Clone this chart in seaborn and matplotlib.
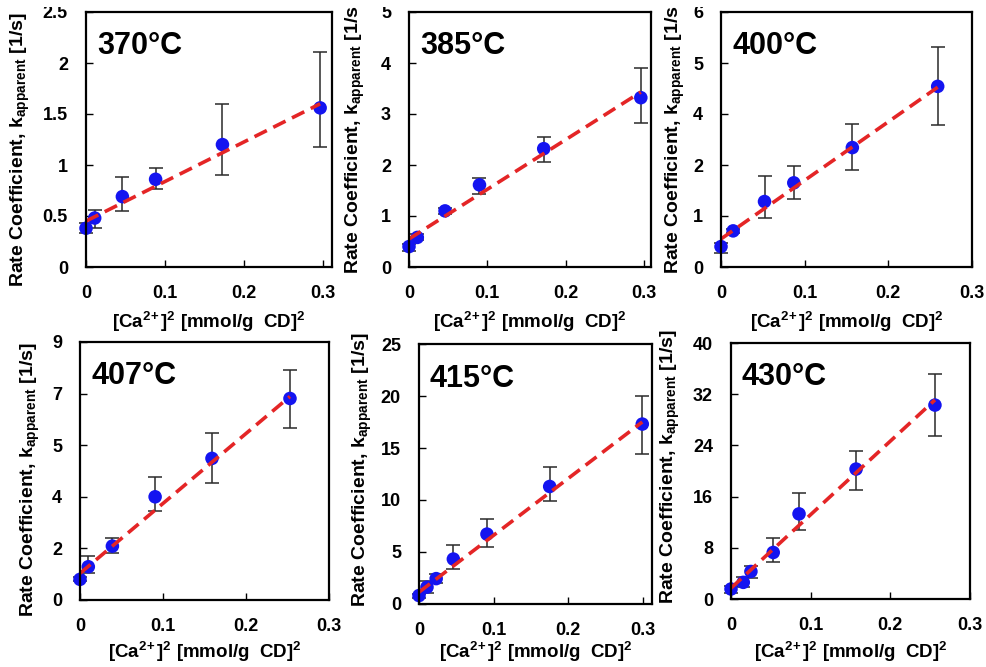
import numpy as np
import pandas as pd
import matplotlib
matplotlib.use("Agg")
import matplotlib.pyplot as plt
import seaborn as sns
from matplotlib.patches import Rectangle

# ---------------- data ----------------
temps = ["370°C", "385°C", "400°C", "407°C", "415°C", "430°C"]

x_370 = [0.0, 0.011, 0.046, 0.088, 0.1725, 0.296]
y_370 = [0.38, 0.48, 0.69, 0.86, 1.20, 1.56]
lo_370 = [0.33, 0.38, 0.55, 0.76, 0.90, 1.18]
hi_370 = [0.43, 0.56, 0.88, 0.97, 1.60, 2.11]
fit_370 = [0.45, 1.60]

x_385 = [0.0, 0.0106, 0.046, 0.090, 0.172, 0.296]
y_385 = [0.40, 0.58, 1.10, 1.61, 2.32, 3.32]
lo_385 = [0.32, 0.52, 1.04, 1.43, 2.06, 2.82]
hi_385 = [0.46, 0.64, 1.16, 1.75, 2.55, 3.90]
fit_385 = [0.55, 3.43]

x_400 = [0.0, 0.0145, 0.052, 0.087, 0.157, 0.259]
y_400 = [0.48, 0.85, 1.54, 1.98, 2.81, 4.25]
lo_400 = [0.33, 0.80, 1.15, 1.59, 2.29, 3.34]
hi_400 = [0.56, 0.90, 2.14, 2.38, 3.36, 5.18]
fit_400 = [0.66, 4.23]

x_407 = [0.0, 0.010, 0.039, 0.0905, 0.159, 0.253]
y_407 = [0.72, 1.16, 1.88, 3.60, 4.94, 7.03]
lo_407 = [0.65, 0.95, 1.63, 3.10, 4.09, 6.00]
hi_407 = [0.80, 1.53, 2.15, 4.30, 5.81, 8.01]
fit_407 = [0.93, 7.10]

x_415 = [0.0, 0.0107, 0.023, 0.046, 0.091, 0.175, 0.299]
y_415 = [0.81, 1.62, 2.44, 4.32, 6.72, 11.3, 17.3]
lo_415 = [0.60, 1.10, 2.00, 3.41, 5.52, 9.90, 14.45]
hi_415 = [1.00, 2.20, 2.90, 5.68, 8.18, 13.15, 20.0]
fit_415 = [1.14, 17.5]

x_430 = [0.0, 0.0154, 0.025, 0.053, 0.0854, 0.157, 0.256]
y_430 = [1.56, 2.6, 4.3, 7.27, 13.3, 20.3, 30.3]
lo_430 = [1.0, 1.8, 3.3, 5.77, 10.8, 17.0, 25.5]
hi_430 = [2.1, 3.4, 5.2, 9.5, 16.5, 23.2, 35.1]
fit_430 = [1.7, 31.1]

xticks = [0.0, 0.1, 0.2, 0.3]
xtick_labels = ["0", "0.1", "0.2", "0.3"]

yticks_370 = [0, 0.5, 1, 1.5, 2, 2.5]
ylabels_370 = ["0", "0.5", "1", "1.5", "2", "2.5"]
yticks_385 = [0, 1, 2, 3, 4, 5]
ylabels_385 = ["0", "1", "2", "3", "4", "5"]
yticks_400 = [0, 1.2, 2.4, 3.6, 4.8, 6.0]
ylabels_400 = ["0", "1", "2", "4", "5", "6"]
yticks_407 = [0, 1.8, 3.6, 5.4, 7.2, 9.0]
ylabels_407 = ["0", "2", "4", "5", "7", "9"]
yticks_415 = [0, 5, 10, 15, 20, 25]
ylabels_415 = ["0", "5", "10", "15", "20", "25"]
yticks_430 = [0, 8, 16, 24, 32, 40]
ylabels_430 = ["0", "8", "16", "24", "32", "40"]

xmax = [0.311, 0.309, 0.30, 0.30, 0.312, 0.30]

xlabel = r"[Ca$^{2\!+}$]$^{2}$ [mmol/g  CD]$^{2}$"
ylabel = r"Rate Coefficient, k$_{\mathrm{apparent}}$ [1/s]"

# ---------------- style ----------------
sns.set_style("ticks")
plt.rcParams["font.family"] = ["Liberation Sans", "DejaVu Sans"]
plt.rcParams["font.weight"] = "bold"
plt.rcParams["text.color"] = "black"
plt.rcParams["axes.labelcolor"] = "black"
plt.rcParams["mathtext.fontset"] = "custom"
plt.rcParams["mathtext.rm"] = "Liberation Sans:bold"
plt.rcParams["mathtext.it"] = "Liberation Sans:bold"
plt.rcParams["mathtext.bf"] = "Liberation Sans:bold"
plt.rcParams["mathtext.sf"] = "Liberation Sans:bold"
plt.rcParams["mathtext.default"] = "rm"

W, H = 987, 667
fig = plt.figure(figsize=(W / 100, H / 100), dpi=100)
fig.patch.set_facecolor("white")

# axes boxes in pixels: left, right, top, bottom
boxes = [
    (86, 332, 12, 267),
    (409, 651, 12, 267),
    (721, 972, 12, 267),
    (80, 329, 342, 600),
    (419, 652, 344, 604),
    (731, 970, 343, 599),
]
ylab_pos = [(20, 150), (355, 137), (675, 137), (30, 480), (362, 470), (670, 467)]
xlab_y = [322, 322, 322, 652, 652, 652]

panels = [
    (x_370, y_370, lo_370, hi_370, fit_370, yticks_370, ylabels_370),
    (x_385, y_385, lo_385, hi_385, fit_385, yticks_385, ylabels_385),
    (x_400, y_400, lo_400, hi_400, fit_400, yticks_400, ylabels_400),
    (x_407, y_407, lo_407, hi_407, fit_407, yticks_407, ylabels_407),
    (x_415, y_415, lo_415, hi_415, fit_415, yticks_415, ylabels_415),
    (x_430, y_430, lo_430, hi_430, fit_430, yticks_430, ylabels_430),
]

for i, (xs, ys, lo, hi, fit, yt, yl) in enumerate(panels):
    l, r, t, b = boxes[i]
    ax = fig.add_axes([l / W, 1 - b / H, (r - l) / W, (b - t) / H])
    df = pd.DataFrame({"x": xs, "y": ys})
    ys_a = np.array(ys)
    yerr = np.vstack([ys_a - np.array(lo), np.array(hi) - ys_a])
    ax.errorbar(xs, ys, yerr=yerr, fmt="none", ecolor="#2a2a2a",
                elinewidth=1.1, capsize=5, capthick=1.1, zorder=2,
                clip_on=False)
    sns.scatterplot(data=df, x="x", y="y", ax=ax, color="#1414F0", s=95,
                    edgecolor="none", zorder=3, legend=False, clip_on=False)
    fit_df = pd.DataFrame({"x": [0.0, xs[-1]], "y": fit})
    sns.lineplot(data=fit_df, x="x", y="y", ax=ax, color="#E42526",
                 linewidth=2.6, zorder=4, legend=False)
    ax.lines[-1].set_dashes([3.8, 2.0])

    ax.set_xlim(0, xmax[i])
    ax.set_ylim(yt[0], yt[-1])
    ax.set_xticks(xticks)
    ax.set_xticklabels(xtick_labels)
    ax.set_yticks(yt)
    ax.set_yticklabels(yl)
    ax.tick_params(direction="in", length=5, width=1, pad=13,
                   labelsize=13, colors="black")
    for lab in ax.get_xticklabels() + ax.get_yticklabels():
        lab.set_fontweight("bold")
    for sp in ax.spines.values():
        sp.set_visible(True)
        sp.set_linewidth(1.6)
        sp.set_color("black")
        sp.set_zorder(5)

    ax.set_xlabel(xlabel, fontsize=13.5, fontweight="bold")
    ax.set_ylabel(ylabel, fontsize=14, fontweight="bold")
    ax.xaxis.label.set_va("center")
    ax.yaxis.label.set_va("center")
    ax.yaxis.label.set_ha("center")
    lx, ly = ylab_pos[i]
    ax.yaxis.set_label_coords((lx - l) / (r - l), (b - ly) / (b - t))
    ax.xaxis.set_label_coords(0.5, (b - xlab_y[i]) / (b - t))

    ax.text(0.045, 0.925, temps[i], transform=ax.transAxes, fontsize=22,
            fontweight="bold", va="top", ha="left", color="black")

# the reference image is trimmed at the top edge
fig.add_artist(Rectangle((0, 1 - 7 / H), 1, 7 / H, transform=fig.transFigure,
                         facecolor="white", edgecolor="none", zorder=100))

fig.savefig("out.png", dpi=100, facecolor="white")
